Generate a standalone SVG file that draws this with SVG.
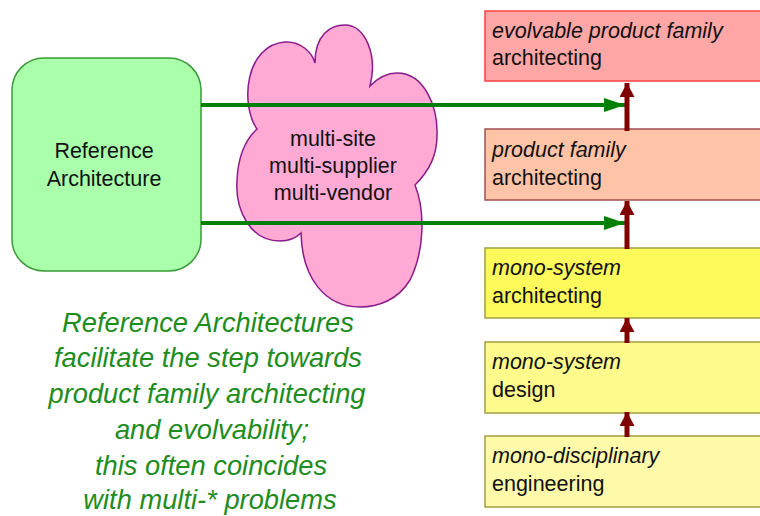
<svg xmlns="http://www.w3.org/2000/svg" width="760" height="516" viewBox="0 0 760 516">
<defs>
<style>
text { font-family: "Liberation Sans", Arial, sans-serif; fill: #111; }
.lbl { font-size: 21.5px; }
.it { font-style: italic; }
.box { stroke-width: 1.5; }
.note { font-size: 27.3px; font-style: italic; fill: #1e8c1e; text-anchor: middle; }
.g { stroke: #008000; stroke-width: 4; fill: none; }
.r { stroke: #800000; stroke-width: 5; fill: none; }
</style>
<marker id="ag" markerUnits="userSpaceOnUse" markerWidth="22" markerHeight="16" refX="21" refY="7" orient="auto" viewBox="0 0 22 16">
<path d="M0,0 L21,7 L0,14 z" fill="#008000"/>
</marker>
<marker id="ar" markerUnits="userSpaceOnUse" markerWidth="16" markerHeight="16" refX="14" refY="7.5" orient="auto" viewBox="0 0 16 16">
<path d="M0,0 L14,7.5 L0,15 z" fill="#800000"/>
</marker>
</defs>
<rect width="760" height="516" fill="#fff"/>

<g id="refarch">
<rect x="12" y="58" width="189" height="213" rx="32" ry="32" fill="#aaffaa" stroke="#3a9a3a" stroke-width="1.5"/>
<text class="lbl" x="104" y="158" text-anchor="middle">Reference</text>
<text class="lbl" x="104" y="186" text-anchor="middle">Architecture</text>
</g>

<g id="cloud">
<path d="M257,129 C240,105 245,45 285,42 C300,41 312,52 315,63 C315,35 330,25 345,25 C365,25 378,55 370,86 C380,76 390,73 397,73 C425,73 438,108 437,135 C437,155 430,170 415,185 C425,210 425,250 410,280 C398,300 378,307 360,307 C325,307 302,278 301,233 C295,239 287,241 280,241 C250,241 235,210 237,180 C238,158 245,140 257,129 Z" fill="#ffaad4" stroke="#8b1a8b" stroke-width="1.5"/>
<text class="lbl" x="333" y="146" text-anchor="middle">multi-site</text>
<text class="lbl" x="333" y="173" text-anchor="middle">multi-supplier</text>
<text class="lbl" x="333" y="200" text-anchor="middle">multi-vendor</text>
</g>

<g id="evolvable">
<rect class="box" x="485" y="11" width="300" height="70" fill="#ffa6a6" stroke="#ff4040"/>
<text class="lbl it" x="492" y="38">evolvable product family</text>
<text class="lbl" x="492" y="65">architecting</text>
</g>
<g id="family">
<rect class="box" x="485" y="129" width="300" height="71" fill="#ffc4a8" stroke="#a05050"/>
<text class="lbl it" x="492" y="157">product family</text>
<text class="lbl" x="492" y="185">architecting</text>
</g>
<g id="monoarch">
<rect class="box" x="485" y="248" width="300" height="70" fill="#fffa5c" stroke="#a0a040"/>
<text class="lbl it" x="492" y="275">mono-system</text>
<text class="lbl" x="492" y="303">architecting</text>
</g>
<g id="monodesign">
<rect class="box" x="485" y="342" width="300" height="71" fill="#fffa8c" stroke="#a0a040"/>
<text class="lbl it" x="492" y="369">mono-system</text>
<text class="lbl" x="492" y="397">design</text>
</g>
<g id="monodisc">
<rect class="box" x="485" y="436" width="300" height="71" fill="#fffaaa" stroke="#a0a040"/>
<text class="lbl it" x="492" y="463">mono-disciplinary</text>
<text class="lbl" x="492" y="491">engineering</text>
</g>

<g id="connectors">
<line class="g" x1="201" y1="105" x2="625" y2="105" marker-end="url(#ag)"/>
<line class="g" x1="201" y1="223" x2="625" y2="223" marker-end="url(#ag)"/>
<line class="r" x1="627" y1="131" x2="627" y2="83" marker-end="url(#ar)"/>
<line class="r" x1="627" y1="249" x2="627" y2="201" marker-end="url(#ar)"/>
<line class="r" x1="627" y1="343" x2="627" y2="318" marker-end="url(#ar)"/>
<line class="r" x1="627" y1="437" x2="627" y2="412" marker-end="url(#ar)"/>
</g>

<g id="note">
<text class="note" x="208" y="332">Reference Architectures</text>
<text class="note" x="208" y="367">facilitate the step towards</text>
<text class="note" x="207" y="403">product family architecting</text>
<text class="note" x="212" y="439">and evolvability;</text>
<text class="note" x="211" y="475">this often coincides</text>
<text class="note" x="210" y="509">with multi-* problems</text>
</g>
</svg>
